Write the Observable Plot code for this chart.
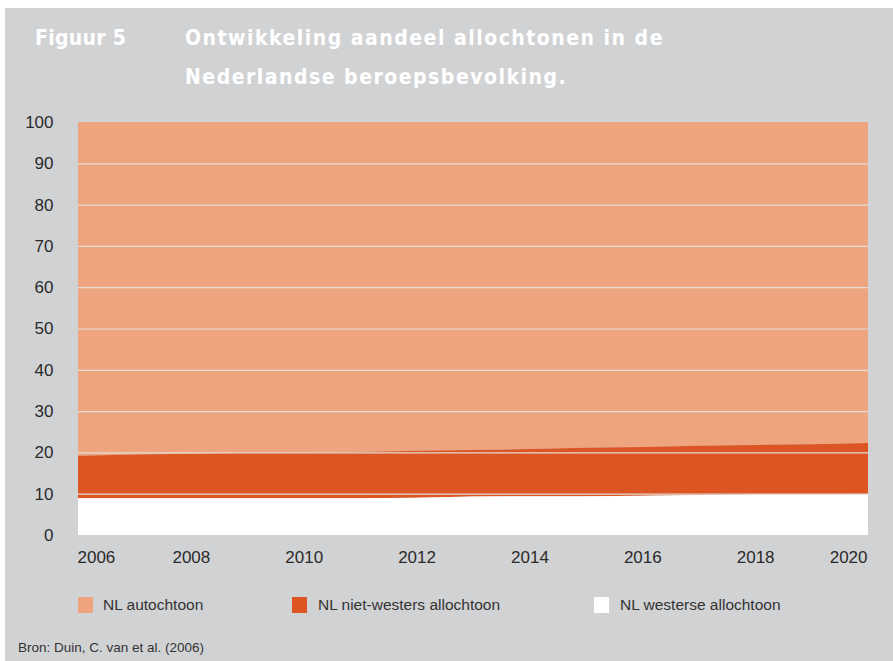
<!DOCTYPE html>
<html>
<head>
<meta charset="utf-8">
<script src="https://cdn.jsdelivr.net/npm/d3@7"></script>
<script src="https://cdn.jsdelivr.net/npm/@observablehq/plot@0.6"></script>
<style>
  html, body { margin: 0; padding: 0; background: #ffffff; }
  body { width: 893px; height: 661px; position: relative; overflow: hidden; font-family: "Liberation Sans", Arial, sans-serif; }
  #panel { position: absolute; left: 5px; top: 8px; width: 888px; height: 653px; background: #d1d2d4; }
  .title { position: absolute; color: #ffffff; font-family: "DejaVu Sans Condensed", "DejaVu Sans", sans-serif; font-stretch: condensed; font-weight: bold; font-size: 21px; letter-spacing: 1.5px; white-space: nowrap; }
  #chart { position: absolute; left: 0; top: 102px; }
  .leg { position: absolute; top: 588px; display: flex; align-items: center; font-size: 15.5px; color: #333; white-space: nowrap; }
  .sw { width: 15px; height: 16px; display: inline-block; }
  #caption { position: absolute; left: 13px; top: 632px; font-size: 13.5px; color: #333; white-space: nowrap; }
</style>
</head>
<body>
<div id="panel">
  <div class="title" style="left:30px; top:18px; letter-spacing:0.3px;">Figuur 5</div>
  <div class="title" style="left:180px; top:18px;">Ontwikkeling aandeel allochtonen in de</div>
  <div class="title" style="left:180px; top:57px;">Nederlandse beroepsbevolking.</div>
  <div id="chart"></div>
  <div id="legend"></div>
  <div id="caption">Bron: Duin, C. van et al. (2006)</div>
</div>
<script>
const years = [2006, 2007, 2008, 2009, 2010, 2011, 2012, 2013, 2014, 2015, 2016, 2017, 2018, 2019, 2020];
const westerse    = [8.9, 8.9, 8.9, 8.9, 8.9, 8.9, 9.0, 9.3, 9.4, 9.4, 9.5, 9.7, 9.8, 9.8, 9.9];
const nietWesters = [10.3, 10.6, 10.8, 11.0, 11.1, 11.2, 11.4, 11.3, 11.4, 11.7, 11.8, 11.9, 12.0, 12.2, 12.4];
const autochtoon  = [80.8, 80.5, 80.3, 80.1, 80.0, 79.9, 79.6, 79.4, 79.2, 78.9, 78.7, 78.4, 78.2, 78.0, 77.7];
const seriesNames = ["NL autochtoon", "NL niet-westers allochtoon", "NL westerse allochtoon"];
const seriesColors = ["#eea47e", "#dc5522", "#ffffff"];
const stackOrder = ["NL westerse allochtoon", "NL niet-westers allochtoon", "NL autochtoon"];
const yTicks = [0, 10, 20, 30, 40, 50, 60, 70, 80, 90, 100];
const gridTicks = [10, 20, 30, 40, 50, 60, 70, 80, 90];
const xTicksMid = [2008, 2010, 2012, 2014, 2016, 2018];

const seriesValues = {"NL autochtoon": autochtoon, "NL niet-westers allochtoon": nietWesters, "NL westerse allochtoon": westerse};
const data = [];
for (const name of seriesNames) {
  years.forEach((yr, i) => data.push({year: yr, group: name, value: seriesValues[name][i]}));
}

const axisFont = {fontSize: 17, fill: "#2a2a2a", label: null};

const chart = Plot.plot({
  width: 888,
  height: 470,
  marginLeft: 73,
  marginRight: 25,
  marginTop: 12,
  marginBottom: 45,
  style: {background: "transparent", fontFamily: "'Liberation Sans', Arial, sans-serif", fontSize: "17px", color: "#222"},
  x: {domain: [2006, 2020], axis: null, label: null},
  y: {domain: [0, 100], axis: null, label: null},
  color: {domain: seriesNames, range: seriesColors},
  marks: [
    Plot.areaY(data, {x: "year", y: "value", fill: "group", order: stackOrder}),
    Plot.gridY(gridTicks, {stroke: "#e4dcd6", strokeOpacity: 1, strokeWidth: 1.2}),
    Plot.axisY(yTicks, {tickSize: 0, tickPadding: 25, ...axisFont, tickFormat: "d"}),
    Plot.axisX(xTicksMid, {tickSize: 0, tickPadding: 15, ...axisFont, tickFormat: "d"}),
    Plot.axisX([2006], {tickSize: 0, tickPadding: 15, ...axisFont, tickFormat: "d", textAnchor: "start", dx: -1}),
    Plot.axisX([2020], {tickSize: 0, tickPadding: 15, ...axisFont, tickFormat: "d", textAnchor: "end", dx: -1})
  ]
});
document.getElementById("chart").appendChild(chart);

const legendX = [[73, 98], [287, 313], [589, 615]];
const legend = document.getElementById("legend");
seriesNames.forEach((name, i) => {
  const item = document.createElement("div");
  item.className = "leg";
  item.style.left = legendX[i][0] + "px";
  const sw = document.createElement("span");
  sw.className = "sw";
  sw.style.background = seriesColors[i];
  const tx = document.createElement("span");
  tx.textContent = name;
  tx.style.marginLeft = (legendX[i][1] - legendX[i][0] - 15) + "px";
  item.appendChild(sw);
  item.appendChild(tx);
  legend.appendChild(item);
});
</script>
</body>
</html>
